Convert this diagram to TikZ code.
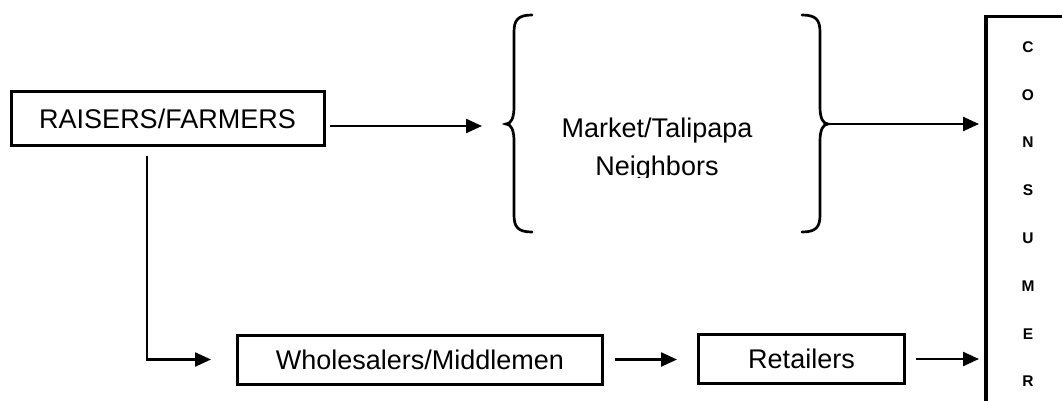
\documentclass[tikz,border=0pt]{standalone}
\usepackage{fontspec}
\setmainfont{Liberation Sans}
\usetikzlibrary{arrows.meta}
\tikzset{
  box/.style={draw, line width=3pt, rectangle, inner sep=0pt, font=\fontsize{27}{30}\selectfont},
  arr/.style={line width=2.3pt, -{Triangle[length=16pt,width=14pt]}},
  brace/.style={line width=2.7pt, line cap=round},
  letter/.style={font=\fontsize{15.5}{18}\bfseries\selectfont, inner sep=0pt}
}
\begin{document}
\begin{tikzpicture}[x=1pt,y=-1pt]
\useasboundingbox (0,0) rectangle (1062,401);
\clip (0,0) rectangle (1062,401);
\fill[white] (0,0) rectangle (1062,401);
% nodes
\node[box, minimum width=313pt, minimum height=54pt] (raisers) at (167.5,118.5) {RAISERS/FARMERS};
\node[box, minimum width=365pt, minimum height=49pt] (wholesale) at (420,359.5) {Wholesalers/Middlemen};
\node[box, minimum width=206pt, minimum height=49pt] (retail) at (801.5,359) {Retailers};
\node[draw, line width=3.5pt, rectangle, minimum width=120pt, minimum height=420pt, anchor=north west] (consumer) at (984,15) {};
\foreach \l [count=\i] in {C,O,N,S,U,M,E,R}
  \node[letter] (c\i) at (1028,{47+(\i-1)*47.8}) {\l};
% market text (bottom clipped as in the original)
\begin{scope}
\clip (540,90) rectangle (800,177.5);
\node[font=\fontsize{27}{37}\selectfont, align=center, inner sep=0pt, anchor=base] (market) at (657,175) {Market/Talipapa\\Neighbors};
\end{scope}
% braces
\coordinate (lbtip) at (506,124);
\coordinate (rbtip) at (828,124);
\draw[brace] (532,15) .. controls (518,15) and (514,20) .. (514,32) -- (514,107)
  .. controls (514,118) and (511,124) .. (lbtip)
  .. controls (511,124) and (514,130) .. (514,141) -- (514,215)
  .. controls (514,227) and (518,232) .. (532,232);
\draw[brace] (802,15) .. controls (816,15) and (820,20) .. (820,32) -- (820,107)
  .. controls (820,118) and (823,124) .. (rbtip)
  .. controls (823,124) and (820,130) .. (820,141) -- (820,215)
  .. controls (820,227) and (816,232) .. (802,232);
% connectors
\coordinate (raisersdown) at ([xshift=-20.5pt]raisers.south);
\draw[arr, shorten <=4pt, shorten >=24pt] (raisers.east |- 0,126) -- (lbtip |- 0,126);
\draw[arr, shorten >=5pt] (rbtip) -- (consumer.west |- rbtip);
\draw[arr, shorten <=9pt, shorten >=25pt] (raisersdown) |- (wholesale.west);
\draw[arr, shorten <=11pt, shorten >=20pt] (wholesale.east) -- (retail.west |- wholesale.east);
\draw[arr, shorten <=10pt, shorten >=5pt] (retail.east) -- (consumer.west |- retail.east);
\end{tikzpicture}
\end{document}
